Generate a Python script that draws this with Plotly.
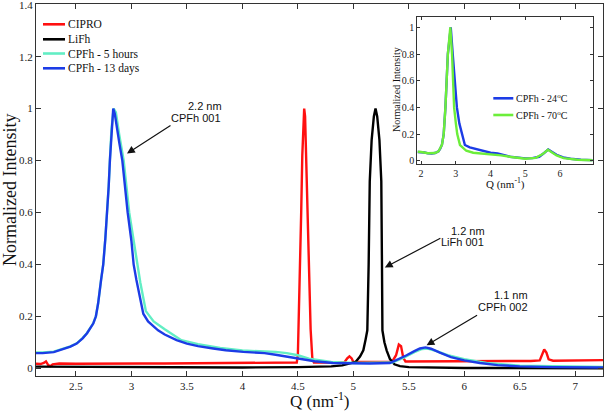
import plotly.graph_objects as go

# ---------------- data ----------------
# Main plot
cipro_q = [2.14, 2.18, 2.21, 2.23, 2.25, 2.27, 2.29, 2.35, 2.5, 2.7, 2.9, 3.1, 3.3, 3.6, 3.9, 4.1, 4.3, 4.45,
           4.49, 4.50, 4.51, 4.52, 4.53, 4.54, 4.55, 4.557, 4.565, 4.575, 4.585, 4.60, 4.615, 4.63, 4.645,
           4.8, 4.92, 4.945, 4.965, 4.985, 5.0, 5.2, 5.35, 5.385, 5.41, 5.43, 5.45, 5.47,
           5.8, 6.2, 6.6, 6.68, 6.70, 6.72, 6.74, 6.76, 6.8, 7.0, 7.25]
cipro_i = [0.017, 0.016, 0.020, 0.026, 0.012, 0.008, 0.015, 0.018, 0.017, 0.018, 0.017, 0.018, 0.018, 0.019, 0.020, 0.020, 0.021, 0.021,
           0.022, 0.05, 0.20, 0.40, 0.60, 0.82, 0.97, 1.0, 0.97, 0.82, 0.60, 0.35, 0.15, 0.04, 0.022,
           0.022, 0.023, 0.038, 0.046, 0.038, 0.024, 0.024, 0.025, 0.05, 0.091, 0.085, 0.04, 0.026,
           0.026, 0.027, 0.028, 0.030, 0.055, 0.072, 0.060, 0.034, 0.029, 0.030, 0.031]

lifh_q = [2.14, 2.5, 3.0, 3.5, 4.0, 4.5, 4.8, 4.9, 4.97, 5.02, 5.06, 5.09, 5.11, 5.126, 5.138, 5.148, 5.165, 5.185,
          5.2, 5.215, 5.235, 5.252, 5.258, 5.262, 5.28, 5.30, 5.33, 5.37, 5.42, 5.5, 6.0, 7.25]
lifh_i = [0.006, 0.005, 0.004, 0.003, 0.003, 0.004, 0.007, 0.011, 0.017, 0.024, 0.045, 0.069, 0.11, 0.146, 0.40, 0.72, 0.88, 0.97,
          1.0, 0.97, 0.88, 0.72, 0.40, 0.146, 0.10, 0.069, 0.035, 0.015, 0.008, 0.004, 0.001, 0.0]

cpfh5h_q = [2.14, 2.2, 2.3, 2.386, 2.45, 2.507, 2.56, 2.6, 2.63, 2.656, 2.68, 2.70, 2.726, 2.746, 2.765, 2.782, 2.795, 2.806,
            2.82, 2.84, 2.86, 2.89, 2.93, 2.98, 3.05, 3.08, 3.13, 3.2, 3.3, 3.45, 3.6, 3.8, 4.0, 4.2, 4.3, 4.4, 4.5,
            4.6, 4.7, 4.8, 5.0, 5.2, 5.35, 5.45, 5.55, 5.62, 5.67, 5.75, 5.85, 6.0, 6.2, 6.5, 7.25]
cpfh5h_i = [0.061, 0.061, 0.064, 0.075, 0.084, 0.096, 0.116, 0.136, 0.156, 0.173, 0.20, 0.25, 0.338, 0.40, 0.50, 0.60, 0.70, 0.80,
            0.92, 1.0, 0.985, 0.90, 0.80, 0.60, 0.40, 0.33, 0.22, 0.18, 0.15, 0.108, 0.093, 0.078, 0.068, 0.064, 0.063, 0.058, 0.05,
            0.037, 0.030, 0.024, 0.020, 0.020, 0.022, 0.040, 0.062, 0.074, 0.076, 0.066, 0.050, 0.035, 0.020, 0.010, 0.005]

cpfh13d_q = [2.14, 2.2, 2.3, 2.386, 2.45, 2.507, 2.56, 2.6, 2.63, 2.656, 2.68, 2.70, 2.726, 2.746, 2.765, 2.782, 2.795, 2.806,
             2.82, 2.836, 2.85, 2.87, 2.89, 2.918, 2.94, 2.966, 3.0, 3.02, 3.045, 3.08, 3.107, 3.15, 3.2, 3.24, 3.3, 3.407,
             3.5, 3.6, 3.737, 3.85, 4.008, 4.1, 4.2, 4.3, 4.4, 4.52, 4.65, 4.816, 5.0, 5.15, 5.33, 5.40, 5.48, 5.55, 5.6,
             5.65, 5.7, 5.78, 5.88, 6.0, 6.14, 6.3, 6.5, 6.8, 7.25]
cpfh13d_i = [0.058, 0.058, 0.062, 0.074, 0.083, 0.095, 0.115, 0.135, 0.155, 0.172, 0.20, 0.25, 0.338, 0.40, 0.50, 0.60, 0.70, 0.80,
             0.92, 1.0, 0.98, 0.92, 0.87, 0.80, 0.70, 0.60, 0.49, 0.40, 0.34, 0.27, 0.21, 0.18, 0.16, 0.146, 0.13, 0.108,
             0.095, 0.085, 0.076, 0.069, 0.063, 0.061, 0.058, 0.052, 0.045, 0.035, 0.027, 0.020, 0.018, 0.018, 0.020, 0.033, 0.050, 0.066, 0.076,
             0.080, 0.075, 0.060, 0.043, 0.030, 0.020, 0.012, 0.007, 0.004, 0.003]

# Inset
t24_q = [1.9, 2.0, 2.1, 2.2, 2.3, 2.4, 2.5, 2.55, 2.6, 2.65, 2.70, 2.77, 2.853, 2.91, 2.96, 3.03, 3.1, 3.17, 3.26, 3.4,
         3.6, 3.8, 4.0, 4.2, 4.3, 4.45, 4.56, 4.8, 5.0, 5.2, 5.4, 5.55, 5.66, 5.75, 5.9, 6.09, 6.3, 6.6, 6.94]
t24_i = [0.066, 0.066, 0.062, 0.056, 0.054, 0.058, 0.070, 0.09, 0.12, 0.20, 0.40, 0.80, 1.0, 0.80, 0.60, 0.40, 0.28, 0.20, 0.118, 0.10,
         0.085, 0.070, 0.060, 0.055, 0.050, 0.038, 0.030, 0.022, 0.018, 0.020, 0.030, 0.060, 0.085, 0.070, 0.045, 0.025, 0.015, 0.008, 0.005]

t70_q = [1.9, 2.0, 2.2, 2.3, 2.4, 2.5, 2.55, 2.6, 2.65, 2.70, 2.77, 2.84, 2.89, 2.93, 2.95, 3.0, 3.04, 3.12, 3.3, 3.5,
         3.8, 4.08, 4.3, 4.6, 5.0, 5.3, 5.5, 5.65, 5.75, 5.9, 6.1, 6.5, 6.94]
t70_i = [0.068, 0.066, 0.056, 0.055, 0.058, 0.070, 0.09, 0.12, 0.20, 0.40, 0.80, 1.0, 0.80, 0.60, 0.40, 0.28, 0.20, 0.118, 0.075, 0.060,
         0.052, 0.048, 0.040, 0.028, 0.015, 0.022, 0.050, 0.082, 0.065, 0.040, 0.020, 0.008, 0.004]

main_series = [("CIPRO", cipro_q, cipro_i, "#ff1010"),
               ("LiFh", lifh_q, lifh_i, "#000000"),
               ("CPFh - 5 hours", cpfh5h_q, cpfh5h_i, "#62eec4"),
               ("CPFh - 13 days", cpfh13d_q, cpfh13d_i, "#1c3ce6")]
inset_series = [("CPFh - 24<sup>o</sup>C", t24_q, t24_i, "#1c3ce6"),
                ("CPFh - 70<sup>o</sup>C", t70_q, t70_i, "#6cee3a")]

main_xticks = [2.5, 3, 3.5, 4, 4.5, 5, 5.5, 6, 6.5, 7]
main_yticks = [0, 0.2, 0.4, 0.6, 0.8, 1, 1.2, 1.4]
inset_xticks = [2, 3, 4, 5, 6]
inset_yticks = [0, 0.2, 0.4, 0.6, 0.8, 1]

# ---------------- layout helpers (pixel -> paper) ----------------
W, H = 605, 415
ML, MR, MT, MB = 36, 2, 4, 39
PW = W - ML - MR
PH = H - MT - MB


def pxx(p):
    return (p - ML) / PW


def pxy(p):
    return (H - MB - p) / PH


SERIF = "Liberation Serif, Times New Roman, serif"
SANS = "Liberation Sans, Arial, sans-serif"
FRAME = "#333333"

fig = go.Figure()
for name, q, i, c in main_series:
    fig.add_trace(go.Scatter(x=q, y=i, mode="lines", name=name,
                             line=dict(color=c, width=2.4), showlegend=False))
for name, q, i, c in inset_series:
    fig.add_trace(go.Scatter(x=q, y=i, mode="lines", name=name, xaxis="x2", yaxis="y2",
                             line=dict(color=c, width=2.4), showlegend=False))

axis_common = dict(showline=True, mirror="ticks", linecolor=FRAME, linewidth=1,
                   ticks="inside", tickcolor=FRAME, showgrid=False, zeroline=False,
                   automargin=False, ticklabeloverflow="allow")

fig.update_layout(
    template="none",
    width=W, height=H,
    margin=dict(l=ML, r=MR, t=MT, b=MB, autoexpand=False),
    paper_bgcolor="white", plot_bgcolor="white",
    xaxis=dict(range=[2.14, 7.25], tickvals=main_xticks, ticklen=5,
               tickfont=dict(family=SERIF, size=11, color="#222"), **axis_common),
    yaxis=dict(range=[-0.03, 1.403], tickvals=main_yticks, ticklen=5,
               tickfont=dict(family=SERIF, size=11, color="#222"), **axis_common),
    xaxis2=dict(domain=[pxx(417.3), pxx(592.7)], anchor="y2", range=[1.89, 6.94],
                tickvals=inset_xticks, ticklen=3,
                tickfont=dict(family=SERIF, size=10, color="#222"), **axis_common),
    yaxis2=dict(domain=[pxy(163.7), pxy(16.7)], anchor="x2", range=[-0.022, 1.08],
                tickvals=inset_yticks, ticklen=3,
                tickfont=dict(family=SERIF, size=10, color="#222"), **axis_common),
    showlegend=False,
)

ann = []
shapes = []

# axis titles
ann.append(dict(text="Q (nm<sup>-1</sup>)", x=pxx(320), y=pxy(400), xref="paper", yref="paper",
                showarrow=False, font=dict(family=SERIF, size=17, color="#111"),
                xanchor="center", yanchor="middle"))
ann.append(dict(text="Normalized Intensity", x=pxx(10), y=pxy(190), xref="paper", yref="paper",
                showarrow=False, textangle=-90, font=dict(family=SERIF, size=18, color="#111"),
                xanchor="center", yanchor="middle"))
ann.append(dict(text="Q (nm<sup>-1</sup>)", x=pxx(505), y=pxy(183), xref="paper", yref="paper",
                showarrow=False, font=dict(family=SERIF, size=11, color="#111"),
                xanchor="center", yanchor="middle"))
ann.append(dict(text="Normalized Intensity", x=pxx(396), y=pxy(90), xref="paper", yref="paper",
                showarrow=False, textangle=-90, font=dict(family=SERIF, size=10, color="#111"),
                xanchor="center", yanchor="middle"))

# main legend (manual)
for k, (name, q, i, c) in enumerate(main_series):
    yy = [24.3, 39.3, 53.5, 68.3][k]
    shapes.append(dict(type="line", xref="paper", yref="paper", x0=pxx(43), x1=pxx(65),
                       y0=pxy(yy), y1=pxy(yy), line=dict(color=c, width=2.6)))
    ann.append(dict(text=name, x=pxx(65.5), y=pxy(yy), xref="paper", yref="paper", showarrow=False,
                    xanchor="left", yanchor="middle", font=dict(family=SERIF, size=11.5, color="#111")))

# inset legend (manual)
for k, (name, q, i, c) in enumerate(inset_series):
    yy = [98.3, 115][k]
    shapes.append(dict(type="line", xref="paper", yref="paper", x0=pxx(493.3), x1=pxx(513.3),
                       y0=pxy(yy), y1=pxy(yy), line=dict(color=c, width=2.6)))
    ann.append(dict(text=name, x=pxx(514), y=pxy(yy), xref="paper", yref="paper", showarrow=False,
                    xanchor="left", yanchor="middle", font=dict(family=SERIF, size=10, color="#111")))

# peak labels
labels = [("2.2 nm", 224, 106), ("CPFh 001", 223, 118.3),
          ("1.2 nm", 486.5, 230.7), ("LiFh 001", 486, 242.3),
          ("1.1 nm", 530, 295), ("CPFh 002", 530, 307.3)]
for t, xr, yc in labels:
    ann.append(dict(text=t, x=pxx(xr), y=pxy(yc), xref="paper", yref="paper", showarrow=False,
                    xanchor="right", yanchor="middle", font=dict(family=SANS, size=11, color="#111")))

# arrows (head in data coords, tail as pixel offset)
arrows = [(2.96, 0.827, 45, -29), (5.284, 0.388, 57, -30), (5.66, 0.088, 52, -31)]
for xh, yh, axo, ayo in arrows:
    ann.append(dict(text="", x=xh, y=yh, xref="x", yref="y", ax=axo, ay=ayo, showarrow=True,
                    arrowhead=2, arrowsize=1.3, arrowwidth=1.2, arrowcolor="#111", standoff=0))

fig.update_layout(annotations=ann, shapes=shapes)
fig.write_html("out.html", config={"displayModeBar": False},
               post_script="document.body.style.margin='0';document.body.style.padding='0';")
